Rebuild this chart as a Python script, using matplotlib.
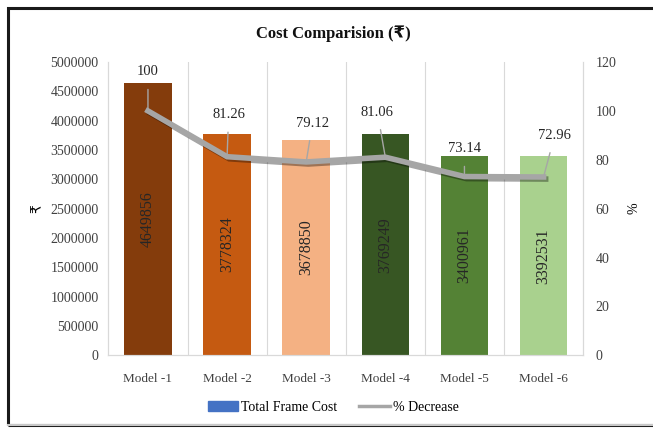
import matplotlib.pyplot as plt
import matplotlib.patheffects as pe
from matplotlib.patches import Patch, Rectangle
from matplotlib.lines import Line2D

plt.rcParams['font.family'] = ['Liberation Serif', 'DejaVu Sans']

models = ['Model -1', 'Model -2', 'Model -3', 'Model -4', 'Model -5', 'Model -6']
frame_cost = [4649856, 3778324, 3678850, 3769249, 3400961, 3392531]
pct_decrease = [100, 81.26, 79.12, 81.06, 73.14, 72.96]
bar_colors = ['#843C0C', '#C55A11', '#F4B183', '#375623', '#548235', '#A9D18E']

# where the % labels sit (x offset in categories, y on the % axis)
label_dx = [0, 0.02, 0.08, -0.1, 0, 0.14]
label_y = [116, 98.5, 95, 99.5, 84.5, 90]

fig = plt.figure(figsize=(6.53, 4.28), dpi=100)
ax = fig.add_axes([0.166, 0.17, 0.727, 0.685])
ax2 = ax.twinx()

x = list(range(len(models)))
ax.bar(x, frame_cost, width=0.6, color=bar_colors, zorder=2)
for xi, v in zip(x, frame_cost):
    ax.text(xi, v / 2, str(v), rotation=90, ha='center', va='center',
            fontsize=11.5, color='#262626', zorder=3)

ax.set_xlim(-0.5, 5.5)
ax.set_ylim(0, 5000000)
ax.set_yticks(range(0, 5000001, 500000))
ax.set_yticklabels([str(t) for t in range(0, 5000001, 500000)])
ax.set_xticks(x)
ax.set_xticklabels(models)
for b in [0.5, 1.5, 2.5, 3.5, 4.5]:
    ax.axvline(b, color='#D9D9D9', lw=0.8, zorder=1)
ax.tick_params(axis='y', length=0, labelsize=10, colors='#404040', pad=7)
ax.tick_params(axis='x', length=0, labelsize=9.5, colors='#404040', pad=13)
ax.set_ylabel('₹', fontsize=10, rotation=90, labelpad=5)

ax2.plot(x, pct_decrease, color='#A6A6A6', lw=4, solid_joinstyle='miter', zorder=4,
         path_effects=[pe.SimpleLineShadow(offset=(1.5, -1.5), alpha=0.35), pe.Normal()])
ax2.set_ylim(0, 120)
ax2.set_yticks(range(0, 121, 20))
ax2.tick_params(length=0, labelsize=10, colors='#404040', pad=9)
ax2.set_ylabel('%', fontsize=10, rotation=90, labelpad=8)
for xi, v, dx, ly in zip(x, pct_decrease, label_dx, label_y):
    ax2.annotate(f'{v:g}', xy=(xi, v), xytext=(xi + dx, ly),
                 ha='center', va='center', fontsize=10.5, color='#262626',
                 arrowprops=dict(arrowstyle='-', color='#A6A6A6', lw=1,
                                 shrinkA=6, shrinkB=0))

for a in (ax, ax2):
    for s in ['top', 'right', 'left', 'bottom']:
        a.spines[s].set_color('#D9D9D9')
        a.spines[s].set_linewidth(0.8)
    a.spines['top'].set_visible(False)

fig.text(0.51, 0.922, 'Cost Comparision (₹)', ha='center', va='center',
         fontsize=12, fontweight='bold', color='#111111')

handles = [Patch(color='#4472C4'), Line2D([], [], color='#A6A6A6', lw=2.5)]
fig.legend(handles, ['Total Frame Cost', '% Decrease'], loc='center',
           bbox_to_anchor=(0.51, 0.048), ncol=2, frameon=False, fontsize=10,
           handlelength=2.2, handletextpad=0.2, columnspacing=1.6)

# outer frame
fig.patches.append(Rectangle((0.013, 0.006), 1.2, 0.975, transform=fig.transFigure,
                             fill=False, edgecolor='#1a1a1a', lw=2.2))
fig.lines.append(Line2D([0.013, 1], [0.006, 0.006], transform=fig.transFigure,
                        color='#C8C8C8', lw=1.5))

fig.savefig('out.png', dpi=100)
